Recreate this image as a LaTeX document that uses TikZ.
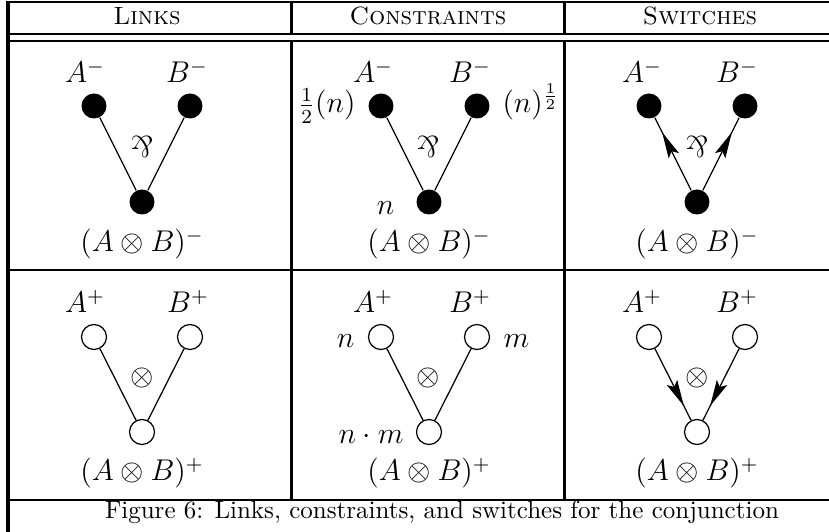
\documentclass[tikz,border=0pt]{standalone}
\usepackage{amsmath}
\usepackage{tikz}
\usetikzlibrary{arrows.meta,decorations.markings}

\begin{document}
\begin{tikzpicture}[x=0.4pt,y=-0.4pt,
  dotnode/.style={circle,fill=black,minimum size=10pt,inner sep=0pt},
  holenode/.style={circle,draw=black,line width=0.5pt,minimum size=10pt,inner sep=0pt},
  lbl/.style={anchor=base,inner sep=0pt,font=\large},
  symlbl/.style={inner sep=0pt,font=\large},
  sidelbl/.style={inner sep=0pt,font=\large},
  wire/.style={line width=0.5pt},
  switchline/.style={line width=0.5pt,postaction={decorate},
    decoration={markings,mark=at position 0.8 with {\arrow{Stealth[length=10.5pt,width=4.6pt,inset=2pt]}}}},
  hrule/.style={line width=0.8pt},
  vrule/.style={line width=1.2pt}]
\useasboundingbox (0,0) rectangle (829,532);
\draw[hrule] (8,2) -- (829,2);
\draw[hrule] (8,34) -- (829,34);
\draw[hrule] (8,41) -- (829,41);
\draw[hrule] (8,270) -- (829,270);
\draw[hrule] (8,500) -- (829,500);
\draw[vrule] (8,1) -- (8,532);
\draw[vrule] (291,2) -- (291,34);
\draw[vrule] (291,41) -- (291,500);
\draw[vrule] (564,2) -- (564,34);
\draw[vrule] (564,41) -- (564,500);
\node[anchor=base,inner sep=0pt] (h1) at (147,25) {\textsc{Links}};
\node[anchor=base,inner sep=0pt] (h2) at (428,25) {\textsc{Constraints}};
\node[anchor=base,inner sep=0pt] (h3) at (700,25) {\textsc{Switches}};
\node[dotnode] (l1a) at (94,106) {};
\node[dotnode] (l1b) at (190,106) {};
\node[dotnode] (l1c) at (142,202) {};
\node[lbl] (l1al) at (85,83) {$A^-$};
\node[lbl] (l1bl) at (187,83) {$B^-$};
\node[symlbl] (l1p) at (142,147) {\rotatebox[origin=c]{180}{\&}};
\node[lbl] (l1cl) at (142,252) {$(A\otimes B)^-$};
\draw[wire] (l1a) -- (l1c);
\draw[wire] (l1b) -- (l1c);
\node[dotnode] (c1a) at (381,106) {};
\node[dotnode] (c1b) at (477,106) {};
\node[dotnode] (c1c) at (429,202) {};
\node[lbl] (c1al) at (373,83) {$A^-$};
\node[lbl] (c1bl) at (470,83) {$B^-$};
\node[symlbl] (c1p) at (428,147) {\rotatebox[origin=c]{180}{\&}};
\node[lbl] (c1cl) at (429,252) {$(A\otimes B)^-$};
\node[sidelbl,anchor=base east] (c1an) at (356,113) {$\frac{1}{2}(n)$};
\node[sidelbl,anchor=base west] (c1bn) at (502,113) {$(n)^{\frac{1}{2}}$};
\node[sidelbl,anchor=base east] (c1cn) at (395,215) {$n$};
\draw[wire] (c1a) -- (c1c);
\draw[wire] (c1b) -- (c1c);
\node[dotnode] (s1a) at (649,106) {};
\node[dotnode] (s1b) at (745,106) {};
\node[dotnode] (s1c) at (697,202) {};
\node[lbl] (s1al) at (642,83) {$A^-$};
\node[lbl] (s1bl) at (737,83) {$B^-$};
\node[symlbl] (s1p) at (697,147) {\rotatebox[origin=c]{180}{\&}};
\node[lbl] (s1cl) at (697,252) {$(A\otimes B)^-$};
\draw[switchline] (s1c) -- (s1a);
\draw[switchline] (s1c) -- (s1b);
\node[holenode] (l2a) at (94,337) {};
\node[holenode] (l2b) at (190,337) {};
\node[holenode] (l2c) at (142,432) {};
\node[lbl] (l2al) at (85,313) {$A^+$};
\node[lbl] (l2bl) at (188,313) {$B^+$};
\node[symlbl] (l2t) at (142,378) {$\otimes$};
\node[lbl] (l2cl) at (142,481) {$(A\otimes B)^+$};
\draw[wire] (l2a) -- (l2c);
\draw[wire] (l2b) -- (l2c);
\node[holenode] (c2a) at (381,337) {};
\node[holenode] (c2b) at (477,337) {};
\node[holenode] (c2c) at (429,432) {};
\node[lbl] (c2al) at (373,313) {$A^+$};
\node[lbl] (c2bl) at (470,313) {$B^+$};
\node[symlbl] (c2t) at (428,378) {$\otimes$};
\node[lbl] (c2cl) at (429,481) {$(A\otimes B)^+$};
\node[sidelbl,anchor=base east] (c2an) at (355,348) {$n$};
\node[sidelbl,anchor=base west] (c2bn) at (503,348) {$m$};
\node[sidelbl,anchor=base east] (c2cn) at (404,444) {$n\cdot m$};
\draw[wire] (c2a) -- (c2c);
\draw[wire] (c2b) -- (c2c);
\node[holenode] (s2a) at (649,337) {};
\node[holenode] (s2b) at (745,337) {};
\node[holenode] (s2c) at (697,432) {};
\node[lbl] (s2al) at (642,313) {$A^+$};
\node[lbl] (s2bl) at (737,313) {$B^+$};
\node[symlbl] (s2t) at (697,378) {$\otimes$};
\node[lbl] (s2cl) at (697,481) {$(A\otimes B)^+$};
\draw[switchline] (s2a) -- (s2c);
\draw[switchline] (s2b) -- (s2c);
\node[anchor=base,inner sep=0pt] (cap) at (442,519) {Figure 6: Links, constraints, and switches for the conjunction};
\end{tikzpicture}
\end{document}
